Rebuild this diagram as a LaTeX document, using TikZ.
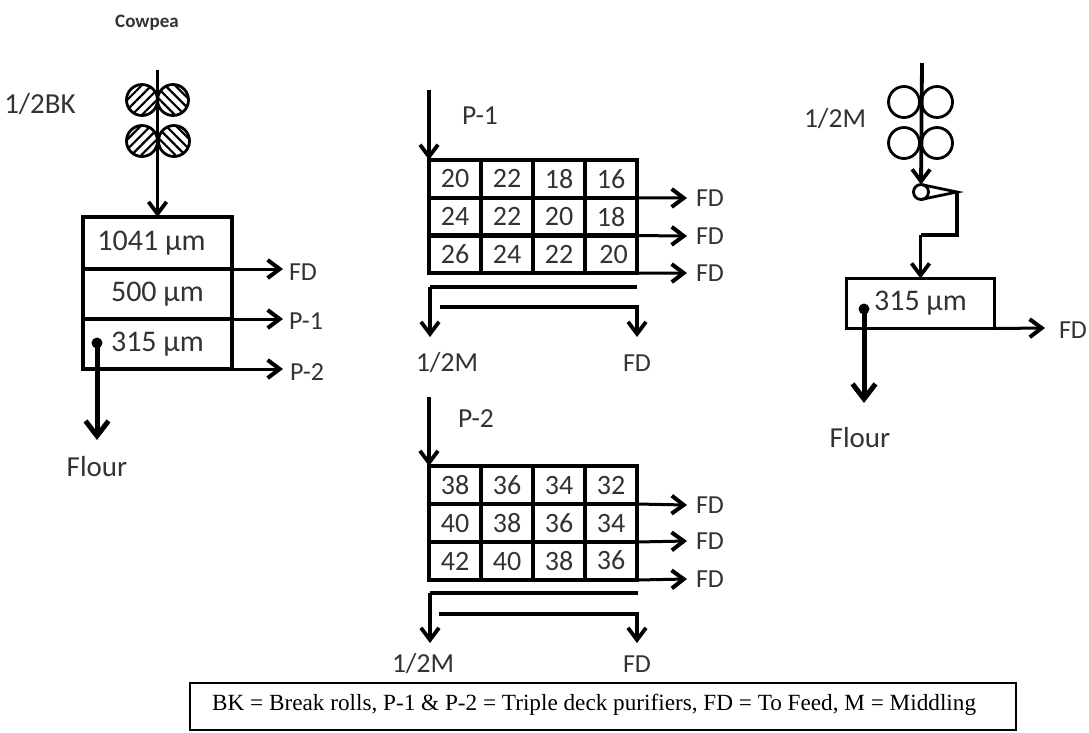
\documentclass[tikz,border=0pt]{standalone}
\usepackage{fontspec}
\setmainfont{Carlito}
\newfontfamily\legendfont{Liberation Serif}
\usetikzlibrary{arrows.meta,patterns.meta}
\definecolor{ink}{gray}{0.2}
\tikzset{
  lbl/.style={inner sep=0pt,outer sep=0pt,text=ink,font=\fontsize{26}{30}\selectfont},
  biglbl/.style={lbl,font=\fontsize{29}{33}\selectfont},
  midlbl/.style={lbl,font=\fontsize{27.5}{32}\selectfont},
  cell/.style={draw,line width=4pt,minimum width=52pt,minimum height=38pt,inner sep=0pt,outer sep=0pt,text=ink,font=\fontsize{28}{32}\selectfont},
  sieve/.style={draw,line width=3.6pt,minimum width=149pt,inner sep=0pt,outer sep=0pt,text=ink,font=\fontsize{30}{34}\selectfont},
  roll/.style={circle,draw,line width=2.8pt,minimum size=31pt,inner sep=0pt,outer sep=0pt},
  flow/.style={line width=3.8pt,-{Straight Barb[length=12pt,width=18pt,line width=3.8pt]}},
  sideflow/.style={line width=3pt,-{Straight Barb[length=12pt,width=18pt,line width=4pt]}},
  bigflow/.style={line width=5pt,-{Straight Barb[length=15pt,width=23pt,line width=5pt]}},
  plain/.style={line width=3.6pt},
  hatchA/.style={pattern={Lines[angle=45,distance=7pt,line width=2.2pt]}},
  hatchB/.style={pattern={Lines[angle=-45,distance=7pt,line width=2.2pt]}},
}
\begin{document}
\begin{tikzpicture}[x=1pt,y=-1pt]
\useasboundingbox (0,0) rectangle (1089,732);
% titles and labels
\node[lbl,font=\fontsize{19}{23}\selectfont\bfseries] (title) at (147,23) {Cowpea};
\node[biglbl] (lbk) at (40,104) {1/2BK};
\node[midlbl] (lp1) at (480,116) {P-1};
\node[midlbl] (lp2) at (476,419) {P-2};
\node[midlbl] (lm) at (835,119) {1/2M};

% left column
\node[roll,hatchA] (r1) at (142,100) {};
\node[roll,hatchB] (r2) at (173,100) {};
\node[roll,hatchA] (r3) at (142,141) {};
\node[roll,hatchB] (r4) at (174,141) {};
\node[sieve,minimum height=52pt] (s1) at (157.5,243) {1041 µm\hspace*{12pt}};
\node[sieve,minimum height=50pt] (s2) at (157.5,294) {500 µm};
\node[sieve,minimum height=50pt] (s3) at (157.5,344) {315 µm};
\coordinate (t1) at (s1.north |- 0,70);
\draw[flow] (t1) -- (s1.north);
\coordinate (e1) at (283,269);
\coordinate (e2) at (283,319);
\coordinate (e3) at (283,369);
\draw[sideflow] (s1.south east) -- (e1);
\draw[sideflow] (s2.south east) -- (e2);
\draw[sideflow] (s3.south east) -- (e3);
\node[lbl] (lf1) at (303,272) {FD};
\node[lbl] (lf2) at (306,321) {P-1};
\node[lbl] (lf3) at (307,372) {P-2};
\node[circle,fill,minimum size=11pt,inner sep=0pt] (d1) at (97,343) {};
\coordinate (fl1) at (97,440);
\draw[bigflow] (d1.center) -- (fl1);
\node[biglbl] (lflour1) at (97,467) {Flour};

% P-1 purifier
\foreach \r/\c/\t in {1/1/20,1/2/22,1/3/18,1/4/16,2/1/24,2/2/22,2/3/20,2/4/18,3/1/26,3/2/24,3/3/22,3/4/{\hspace*{5pt}20}}
  \node[cell] (a\r\c) at ({429+52*(\c-0.5)},{160+37.7*(\r-0.5)}) {\t};
\coordinate (ta) at (a11.north west |- 0,90);
\draw[flow] (ta) -- (a11.north west);
\foreach \r/\y in {1/198,2/236,3/273}{
  \coordinate (ea\r) at (687,\y);
  \draw[sideflow] (a\r4.south east) -- (ea\r);
  \node[lbl] (lfa\r) at (710,\y) {FD};
}
\coordinate (a1s) at (430,287);
\coordinate (a1e) at (637,287);
\coordinate (a1t) at (430,337);
\draw[plain] (a1e) -- (a1s);
\draw[flow] (a1s) -- (a1t);
\coordinate (a2s) at (440,307);
\coordinate (a2k) at (637,307);
\coordinate (a2t) at (637,337);
\draw[flow] (a2s) -- (a2k) -- (a2t);
\node[midlbl] (lam) at (447,363) {1/2M};
\node[lbl] (laf) at (637,363) {FD};

% P-2 purifier
\foreach \r/\c/\t in {1/1/38,1/2/{\raisebox{-2pt}{36}},1/3/34,1/4/32,2/1/40,2/2/38,2/3/36,2/4/34,3/1/42,3/2/40,3/3/38,3/4/{\raisebox{2pt}{36}}}
  \node[cell] (b\r\c) at ({429+52*(\c-0.5)},{466+38*(\r-0.5)}) {\t};
\coordinate (tb) at (b11.north west |- 0,397);
\draw[flow] (tb) -- (b11.north west);
\foreach \r/\y in {1/505,2/541,3/579}{
  \coordinate (eb\r) at (687,\y);
  \draw[sideflow] (b\r4.south east) -- (eb\r);
  \node[lbl] (lfb\r) at (710,\y) {FD};
}
\coordinate (b1s) at (430,593);
\coordinate (b1e) at (638,593);
\coordinate (b1t) at (430,643);
\draw[plain] (b1e) -- (b1s);
\draw[flow] (b1s) -- (b1t);
\coordinate (b2s) at (439,614);
\coordinate (b2k) at (637,614);
\coordinate (b2t) at (637,643);
\draw[flow] (b2s) -- (b2k) -- (b2t);
\node[midlbl] (lbm) at (423,664) {1/2M};
\node[lbl] (lbf) at (637,664) {FD};

% right column
\node[roll] (q1) at (904,102) {};
\node[roll] (q2) at (937,102) {};
\node[roll] (q3) at (904,143) {};
\node[roll] (q4) at (937,143) {};
\node[circle,draw,line width=2.8pt,minimum size=15pt,inner sep=0pt,outer sep=0pt] (sc) at (921,192) {};
\coordinate (tr) at (922,63);
\draw[flow] (tr) -- (sc.north);
\coordinate (bp) at (957,192);
\draw[line width=2.8pt,line join=miter] (sc.north) -- (bp) -- (sc.south);
\node[sieve,minimum width=148pt,minimum height=50pt] (rb) at (920.5,303.5) {315 µm};
\coordinate (k) at (rb.north |- 0,235);
\draw[plain] (bp) |- (k);
\draw[flow] (k) -- (rb.north);
\coordinate (rf) at (1045,328);
\draw[sideflow] (rb.south east) -- (rf);
\node[lbl] (lrf) at (1073,330) {FD};
\node[circle,fill,minimum size=11pt,inner sep=0pt] (d2) at (864,309) {};
\coordinate (fl2) at (864,403);
\draw[bigflow] (d2.center) -- (fl2);
\node[biglbl] (lflour2) at (860,438) {Flour};

% legend
\node[draw,line width=2.4pt,minimum width=826pt,minimum height=47pt,inner sep=0pt,outer sep=0pt] (legendbox) at (603,706.5) {};
\node[inner sep=0pt,anchor=west,font=\legendfont\fontsize{23.2}{27}\selectfont] (legend) at (212,705) {BK = Break rolls, P-1 \& P-2 = Triple deck purifiers, FD = To Feed, M = Middling};
\end{tikzpicture}
\end{document}
